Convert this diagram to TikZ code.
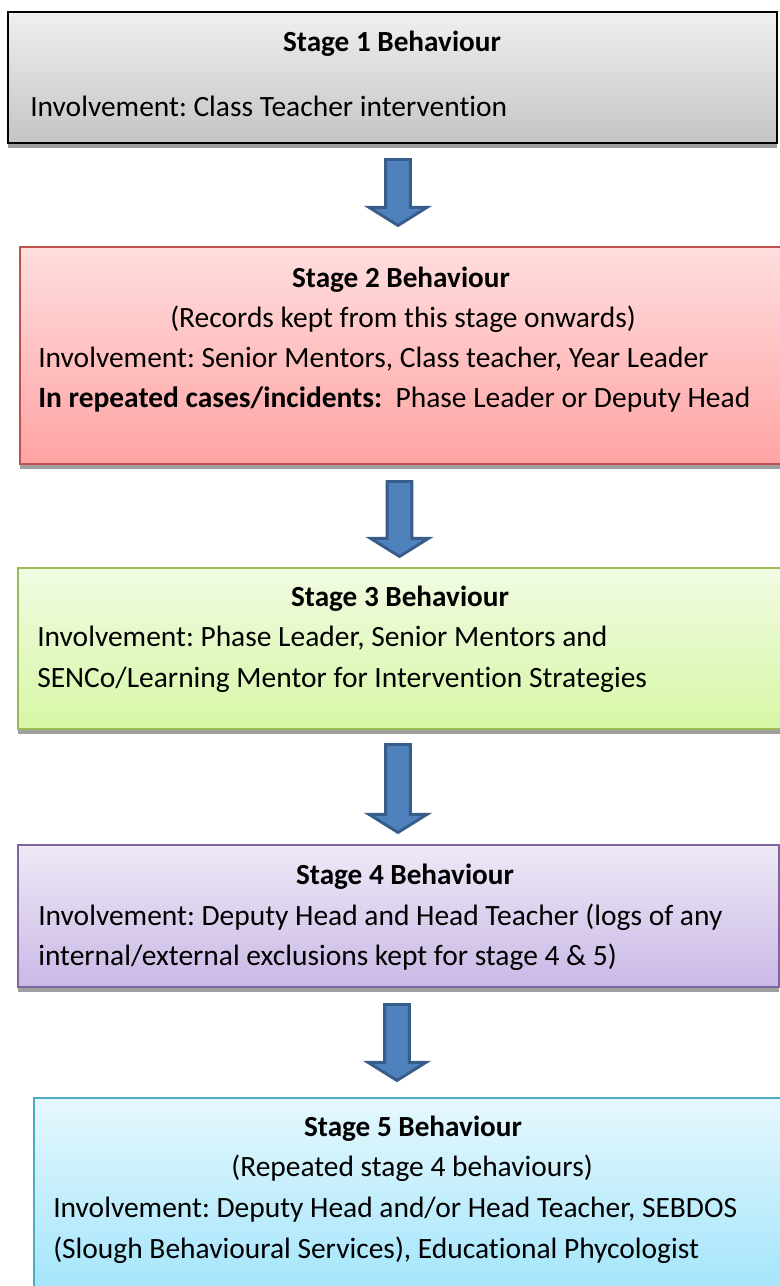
\documentclass[tikz,border=0pt]{standalone}
\usepackage{fontspec}
\setmainfont{Carlito}[Ligatures=NoCommon]
\usetikzlibrary{shapes.arrows}
\usetikzlibrary{shadows}
\frenchspacing

\definecolor{arrowfill}{HTML}{4F81BD}
\definecolor{arrowline}{HTML}{385D8A}
\definecolor{shadowgray}{HTML}{A0A0A0}
\definecolor{redline}{HTML}{C0504D}
\definecolor{greenline}{HTML}{9BBB59}
\definecolor{purpleline}{HTML}{8064A2}
\definecolor{blueline}{HTML}{4BACC6}

\tikzset{stagebox/.style={rectangle, draw, line width=1.5pt, anchor=north west, inner sep=0pt,
  drop shadow={shadow xshift=0pt, shadow yshift=-3.8pt, fill=shadowgray, opacity=1}}}
\tikzset{downarrow/.style={single arrow, draw=arrowline, fill=arrowfill, line width=2.2pt,
  rotate=-90, anchor=tail, inner sep=8.2pt, single arrow head extend=12.4pt,
  single arrow tip angle=116, minimum width=0pt}}
\tikzset{title/.style={anchor=base, inner sep=0pt, font=\fontsize{21.9}{30}\selectfont\bfseries}}
\tikzset{line/.style={anchor=base west, inner sep=0pt, font=\fontsize{22.1}{30}\selectfont}}

\begin{document}
\begin{tikzpicture}[x=0.75pt, y=-0.75pt]
      \useasboundingbox (0, 0) rectangle (780, 1286);

      % the five stages
      \node [stagebox, draw=black, top color=black!6, bottom color=black!23,
        minimum width=769*0.75pt, minimum height=131*0.75pt] (s1) at (7, 11) {};
      \node [stagebox, draw=redline, top color=red!13, bottom color=red!36,
        minimum width=781*0.75pt, minimum height=217*0.75pt] (s2) at (19, 246) {};
      \node [stagebox, draw=greenline, top color={rgb,255:red,241;green,251;blue,226}, bottom color={rgb,255:red,215;green,247;blue,166},
        minimum width=781*0.75pt, minimum height=161*0.75pt] (s3) at (17, 567) {};
      \node [stagebox, draw=purpleline, top color={rgb,255:red,238;green,233;blue,246}, bottom color={rgb,255:red,202;green,184;blue,230},
        minimum width=761*0.75pt, minimum height=142*0.75pt] (s4) at (17, 844) {};
      \node [stagebox, draw=blueline, top color={rgb,255:red,230;green,248;blue,253}, bottom color={rgb,255:red,160;green,228;blue,251},
        minimum width=781*0.75pt, minimum height=200*0.75pt] (s5) at (33, 1097) {};

      % arrows between them
      \node [downarrow, minimum height=66*0.75pt] (a1) at (398, 158) {};
      \node [downarrow, minimum height=75*0.75pt] (a2) at (399.5, 480) {};
      \node [downarrow, minimum height=88*0.75pt] (a3) at (398, 743) {};
      \node [downarrow, minimum height=76*0.75pt] (a4) at (397, 1003) {};

      % texts
      \node [title] (h1) at (392, 51) {Stage 1 Behaviour};
      \node [line] (l1) at (30, 116) {Involvement: Class Teacher intervention};

      \node [title] (h2) at (401, 287) {Stage 2 Behaviour};
      \node [line, anchor=base] (l2a) at (403, 327) {(Records kept from this stage onwards)};
      \node [line] (l2b) at (38, 367) {Involvement: Senior Mentors, Class teacher, Year Leader};
      \node [line] (l2c) at (38, 407) {\textbf{In repeated cases/incidents:}\ \ Phase Leader or Deputy Head};

      \node [title] (h3) at (400, 606) {Stage 3 Behaviour};
      \node [line] (l3a) at (37, 646) {Involvement: Phase Leader, Senior Mentors and};
      \node [line] (l3b) at (37, 687) {SENCo/Learning Mentor for Intervention Strategies};

      \node [title] (h4) at (405, 884) {Stage 4 Behaviour};
      \node [line] (l4a) at (38, 925) {Involvement: Deputy Head and Head Teacher (logs of any};
      \node [line] (l4b) at (38, 965) {internal/external exclusions kept for stage 4 \& 5)};

      \node [title] (h5) at (413, 1136) {Stage 5 Behaviour};
      \node [line, anchor=base] (l5a) at (412, 1176) {(Repeated stage 4 behaviours)};
      \node [line] (l5b) at (53, 1217) {Involvement: Deputy Head and/or Head Teacher, SEBDOS};
      \node [line] (l5c) at (53, 1258) {(Slough Behavioural Services), Educational Phycologist};
\end{tikzpicture}
\end{document}
